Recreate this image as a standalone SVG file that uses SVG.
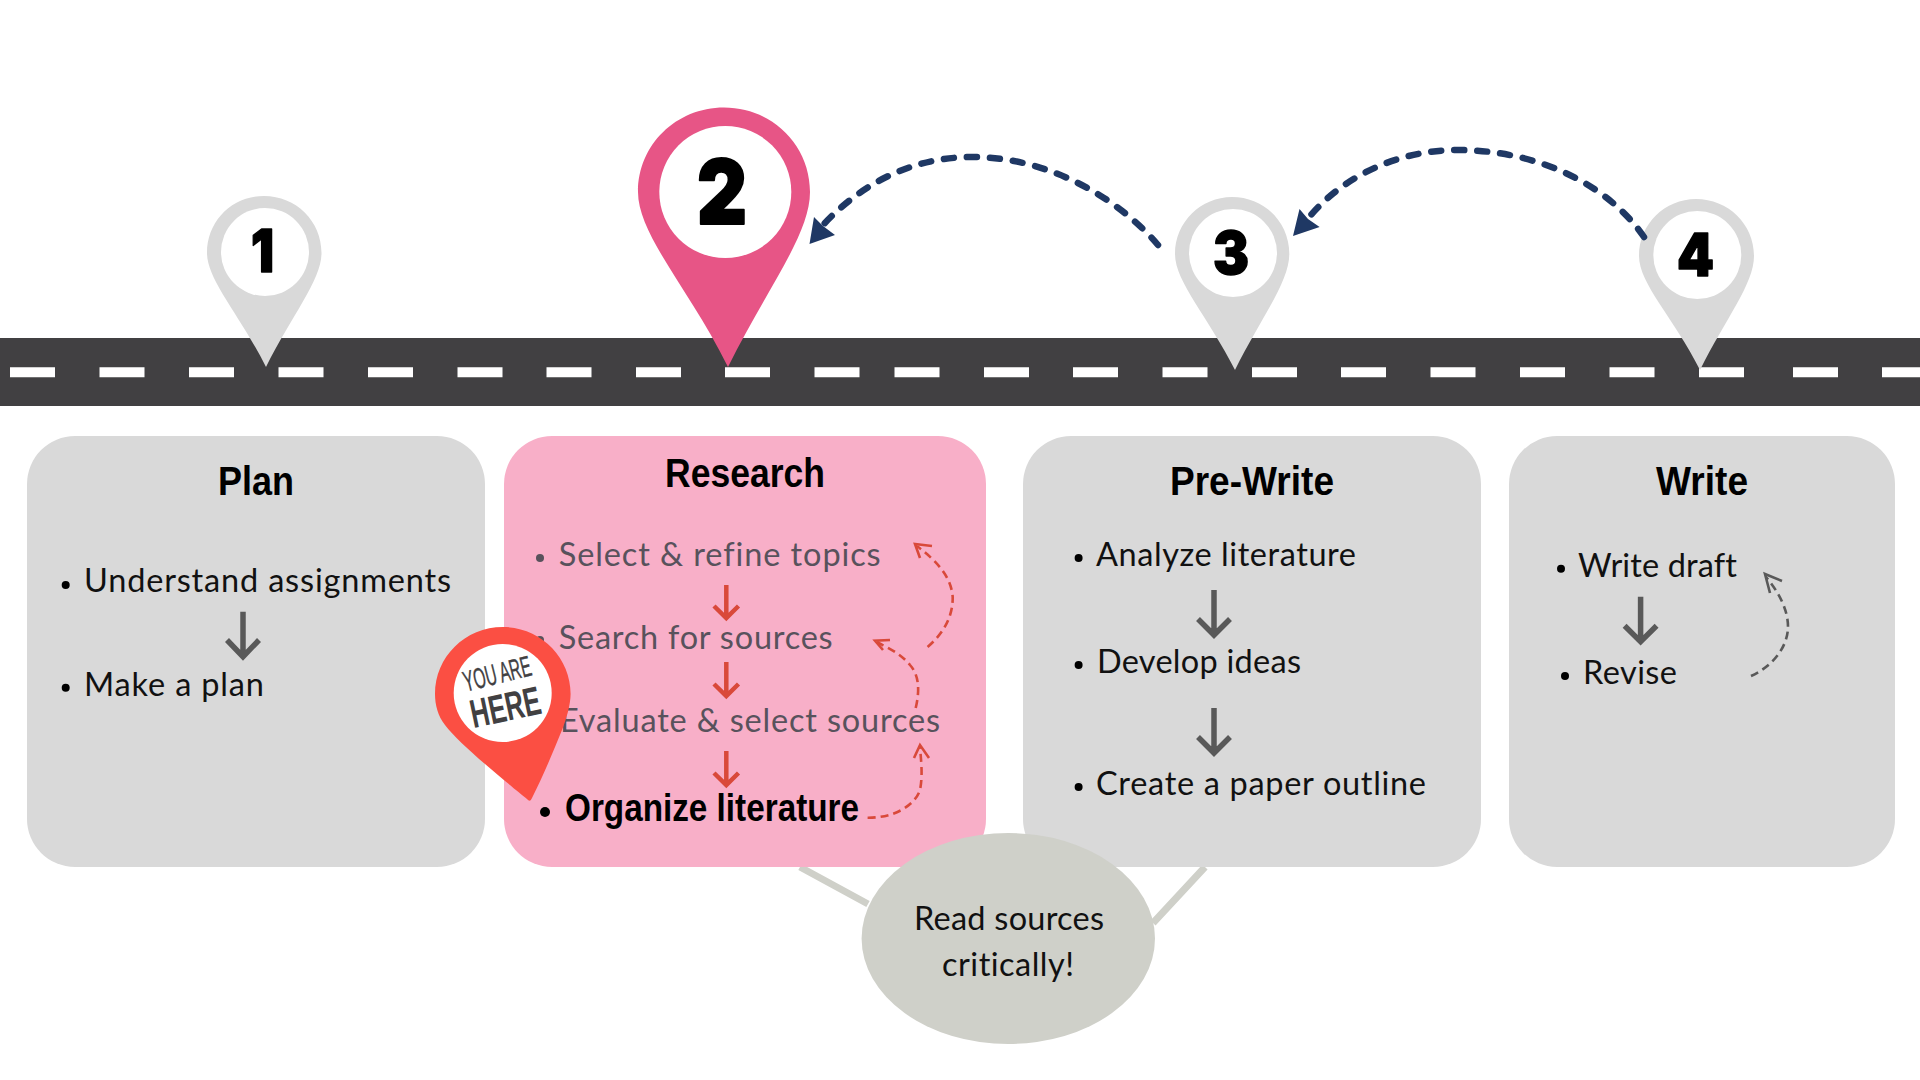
<svg xmlns="http://www.w3.org/2000/svg" width="1920" height="1080" viewBox="0 0 1920 1080">
<style>
text{font-family:"Liberation Sans",Arial,sans-serif}
.t{font-size:41px;font-weight:700;fill:#000}
.b{font-family:Lato,"Liberation Sans",sans-serif;font-size:32.500px;fill:#111;font-variant-ligatures:none}
.g{fill:#58525c}
.n{font-family:Inter,"DejaVu Sans",sans-serif;font-weight:900;fill:#000;stroke:#000;stroke-width:1.500;stroke-linejoin:round}
.card{fill:#d9d9d9}
.pin{fill:#d9d9d9}
.ar{fill:none;stroke:#595959;stroke-width:5.500}
.rd{fill:none;stroke:#d9493a;stroke-width:4.500}
.navy{fill:none;stroke:#1f3864;stroke-width:6.500;stroke-linecap:round;stroke-dasharray:10 13}
.rdash{fill:none;stroke:#d9493a;stroke-width:2.600;stroke-dasharray:8 5}
.rhead{fill:none;stroke:#d9493a;stroke-width:2.600}
.gdash{fill:none;stroke:#595959;stroke-width:2.600;stroke-dasharray:8 5}
.ghead{fill:none;stroke:#595959;stroke-width:2.600}
</style>
<rect width="1920" height="1080" fill="#fff"/>
<g id="road">
<rect x="0" y="338" width="1920" height="68" fill="#414042"/>
<path d="M10 372.300h45M99.500 372.300h45M189 372.300h45M278.500 372.300h45M368 372.300h45M457.500 372.300h45M546.500 372.300h45M636 372.300h45M725 372.300h45M814.500 372.300h45M894.500 372.300h45M984 372.300h45M1073 372.300h45M1162.500 372.300h45M1252 372.300h45M1341 372.300h45M1430.500 372.300h45M1520 372.300h45M1609.500 372.300h45M1699 372.300h45M1793 372.300h45M1882 372.300h38" stroke="#fff" stroke-width="10" fill="none"/>
</g>
<g id="pin-1">
<path class="pin" d="M266 367C240 315 207 280 207 253C207 221 232 196 264 196C296 196 321.500 221 321.500 253C321.500 280 292 315 266 367Z"/>
<circle cx="265" cy="252" r="44" fill="#fff"/>
<text class="n" x="251" y="271.500" font-size="59" textLength="23" lengthAdjust="spacingAndGlyphs">1</text>
</g>
<g id="pin-2">
<path fill="#e75586" d="M728 367C690 290 638 235 638 192C638 145 676 107.500 724 107.500C772 107.500 810 145 810 192C810 235 766 290 728 367Z"/>
<circle cx="725.300" cy="192" r="66" fill="#fff"/>
<text class="n" x="697" y="223.500" font-size="90" style="stroke-width:2" textLength="50" lengthAdjust="spacingAndGlyphs">2</text>
</g>
<g id="pin-3">
<path class="pin" d="M1235 370C1209 318 1175 282 1175 254C1175 222 1201 197 1232 197C1264 197 1289.300 222 1289.300 254C1289.300 282 1261 318 1235 370Z"/>
<circle cx="1233" cy="253" r="44" fill="#fff"/>
<text class="n" x="1213" y="274" font-size="59" textLength="36" lengthAdjust="spacingAndGlyphs">3</text>
</g>
<g id="pin-4">
<path class="pin" d="M1700 370C1674 318 1639 284 1639 256C1639 224 1665 199 1696 199C1728 199 1754 224 1754 256C1754 284 1726 318 1700 370Z"/>
<circle cx="1697.300" cy="255" r="44" fill="#fff"/>
<text class="n" x="1677" y="275.500" font-size="59" textLength="37" lengthAdjust="spacingAndGlyphs">4</text>
</g>
<g id="connectors">
<path class="navy" d="M1158 245C1120 200 1050 157 973 157C910 157 860 185 822 226"/>
<path fill="#1f3864" d="M809.500 244L814 217L823 226L835 235Z"/>
<path class="navy" d="M1644 237C1612 190 1545 150 1457 150C1400 150 1345 175 1310 216"/>
<path fill="#1f3864" d="M1293 236L1299.500 209L1308 219L1319.600 227Z"/>
<path d="M800 867L868 904M1205 867L1153 923" stroke="#cfd0c9" stroke-width="7" fill="none"/>
</g>
<g id="plan">
<rect class="card" x="27" y="436" width="458" height="431" rx="48"/>
<text class="t" x="218" y="495" textLength="76" lengthAdjust="spacingAndGlyphs">Plan</text>
<circle cx="65.700" cy="585" r="4"/>
<text class="b" x="84" y="591.700" textLength="367">Understand assignments</text>
<circle cx="65.700" cy="687.700" r="4"/>
<text class="b" x="84" y="695.500" textLength="180">Make a plan</text>
<path class="ar" d="M243 611.700V656.700M227 640L243 656.700L259 640"/>
</g>
<g id="research">
<rect x="504" y="436" width="482" height="431" rx="48" fill="#f8afc8"/>
<text class="t" x="665" y="486.700" textLength="160" lengthAdjust="spacingAndGlyphs">Research</text>
<circle cx="540" cy="558" r="4" fill="#58525c"/>
<text class="b g" x="558.700" y="566" textLength="322">Select &amp; refine topics</text>
<circle cx="540" cy="640" r="4" fill="#58525c"/>
<text class="b g" x="558.700" y="649" textLength="274">Search for sources</text>
<text class="b g" x="560" y="732.200" textLength="380">Evaluate &amp; select sources</text>
<circle cx="545" cy="812" r="5"/>
<text class="t" style="font-size:39px" x="565" y="821" textLength="294" lengthAdjust="spacingAndGlyphs">Organize literature</text>
<path class="rd" d="M726.300 585V618M714 606L726.300 618L738.500 606M726.300 662V696M714 684L726.300 696L738.500 684M726.300 751V785M714 773L726.300 785L738.500 773"/>
<path class="rdash" d="M927.600 647C945 632 953 615 952.700 597C951 575 935 560 917 546"/>
<path class="rhead" d="M932 546L915 544L920 558"/>
<path class="rdash" d="M915.700 708C920 690 919 675 910 665C900 653 888 648 877 642"/>
<path class="rhead" d="M890 640L875 640.700L883 650"/>
<path class="rdash" d="M867.600 817.700C895 818 915 805 920 790C923 775 921 760 920 747"/>
<path class="rhead" d="M914 758L920 745L929 758"/>
</g>
<g id="prewrite">
<rect class="card" x="1023" y="436" width="458" height="431" rx="48"/>
<text class="t" x="1170" y="495" textLength="164" lengthAdjust="spacingAndGlyphs">Pre-Write</text>
<circle cx="1078.600" cy="558" r="4"/>
<text class="b" x="1096" y="566" textLength="260">Analyze literature</text>
<circle cx="1078.600" cy="665" r="4"/>
<text class="b" x="1097" y="673" textLength="204">Develop ideas</text>
<circle cx="1078.600" cy="787" r="4"/>
<text class="b" x="1096" y="795" textLength="330">Create a paper outline</text>
<path class="ar" d="M1214 590V635M1198 619L1214 635L1230 619M1214 708V753M1198 737L1214 753L1230 737"/>
</g>
<g id="write">
<rect class="card" x="1509" y="436" width="386" height="431" rx="48"/>
<text class="t" x="1656" y="495" textLength="92" lengthAdjust="spacingAndGlyphs">Write</text>
<circle cx="1561" cy="568.700" r="4"/>
<text class="b" x="1578" y="576.700" textLength="159">Write draft</text>
<circle cx="1565" cy="676" r="4"/>
<text class="b" x="1583" y="684" textLength="94">Revise</text>
<path class="ar" d="M1640.600 596.700V641.700M1624.600 625.700L1640.600 641.700L1656.600 625.700"/>
<path class="gdash" d="M1751 676C1775 665 1788 645 1788 626.700C1788 608 1777 590 1766 577"/>
<path class="ghead" d="M1782 581L1765 574L1770 593"/>
</g>
<g id="read-critically">
<ellipse cx="1008.300" cy="938.500" rx="146.700" ry="105.500" fill="#cfd0c9"/>
<text class="b" x="914" y="930.300" textLength="190">Read sources</text>
<text class="b" x="942" y="975.700" textLength="132">critically!</text>
</g>
<g id="you-are-here">
<path fill="#fb4f43" d="M527 799C510 785 460 745 445 725C438 716 435 705 435 694C435 657 465 627 503 627C540 627 570.600 657 570.600 694C570.600 705 566 720 562 730C552 755 542 778 532 798C530 802 529 801 527 799Z"/>
<circle cx="502.700" cy="693" r="49" fill="#fff"/>
<text x="466" y="691.700" transform="rotate(-14 466 691.700)" font-size="29" fill="#414042" stroke="#414042" stroke-width=".4" textLength="69" lengthAdjust="spacingAndGlyphs">YOU ARE</text>
<text x="473.600" y="728" transform="rotate(-12 473.600 728)" font-size="40" font-weight="700" fill="#414042" textLength="71" lengthAdjust="spacingAndGlyphs">HERE</text>
</g>
</svg>
